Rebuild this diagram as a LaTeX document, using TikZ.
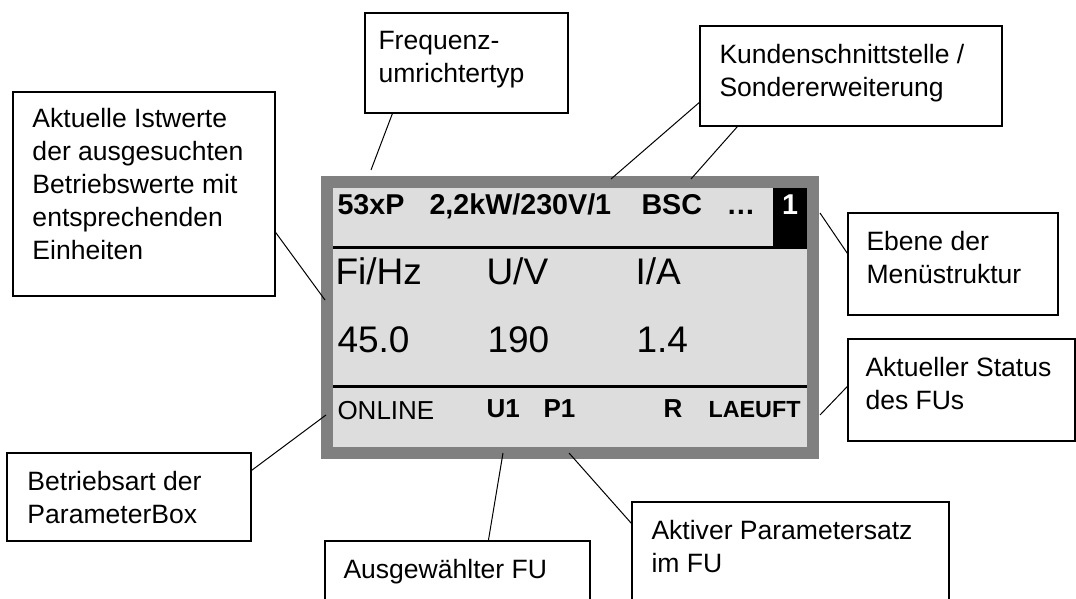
\documentclass[tikz,border=0pt]{standalone}
\usepackage{fontspec}
\setmainfont{Liberation Sans}
\usepackage{tikz}
\usetikzlibrary{calc}
\usetikzlibrary{fit}
\tikzset{every picture/.style={line width=0.75pt}}
\definecolor{framegray}{RGB}{128,128,128}
\definecolor{lcdgray}{RGB}{221,221,221}
\newcommand{\calloutfont}{\fontsize{19.9}{24.75}\selectfont}
\newcommand{\lcdhead}{\bfseries\fontsize{21.5}{25}\selectfont}
\newcommand{\lcdbig}{\fontsize{27.75}{32}\selectfont}
\newcommand{\lcdstat}{\fontsize{19.5}{23}\selectfont}
\tikzset{
  callout/.style={draw, line width=0.9pt, inner sep=0pt, fill=white},
  callouttext/.style={anchor=north west, inner sep=0pt, align=left, font=\calloutfont},
  lcdtext/.style={anchor=base west, inner sep=0pt},
  pointer/.style={line width=0.75pt}
}

\begin{document}
\begin{tikzpicture}[x=0.75pt,y=0.75pt,yscale=-1,xscale=1]
\useasboundingbox (0,0) rectangle (1076,599);
\clip (0,0) rectangle (1076,599);

%Shape: Display frame
\fill [framegray] (321,176) rectangle (819,459);
\fill [lcdgray] (333,188) rectangle (807,447);
\fill [black] (773,188) rectangle (807,249);
%Straight Lines
\draw [line width=2.25pt] (333,248) -- (807,248);
\draw [line width=2.25pt] (333,387) -- (807,387);

% Text Node
\node [lcdtext, font=\lcdhead] (fu-typ) at (337,215) {53xP};
\node [lcdtext, font=\lcdhead] (fu-leist) at (429,215) {2,2kW/230V/1};
\node [lcdtext, font=\lcdhead] (fu-bsc) at (641,215) {BSC};
\node [lcdtext, font=\lcdhead] (fu-dots) at (726,215) {…};
\node [anchor=base, inner sep=0pt, font=\lcdhead, text=white] (ebene-nr) at (790,215) {1};
% Text Node
\node [lcdtext, font=\lcdbig] (fi-lbl) at (335,285) {Fi/Hz};
\node [lcdtext, font=\lcdbig] (u-lbl) at (486,285) {U/V};
\node [lcdtext, font=\lcdbig] (i-lbl) at (635,285) {I/A};
\node [lcdtext, font=\lcdbig] (fi-val) at (337,353) {45.0};
\node [lcdtext, font=\lcdbig] (u-val) at (487,353) {190};
\node [lcdtext, font=\lcdbig] (i-val) at (636,353) {1.4};
% Text Node
\node [lcdtext, font=\lcdstat] (modus) at (337,419) {ONLINE};
\node [lcdtext, font=\lcdstat\bfseries] (umr) at (486,417) {U1};
\node [lcdtext, font=\lcdstat\bfseries] (psatz) at (543,417) {P1};
\node [lcdtext, font=\lcdstat\bfseries] (run) at (663,417) {R};
\node [lcdtext, font=\bfseries\fontsize{17.5}{20}\selectfont] (status) at (708,417) {LAEUFT};

% pointer ends on the display
\coordinate (p-akt) at (325,300);
\coordinate (p-typ) at (371,170);
\coordinate (p-kund1) at (611,179);
\coordinate (p-kund2) at (691,179);
\coordinate (p-ebene) at (820,213);
\coordinate (p-status) at (820,415);
\coordinate (p-modus) at (326,415);
\coordinate (p-umr) at (503,453);
\coordinate (p-psatz) at (569,453);

%Shape: Callout boxes
\node [callout, fit={(13,92) (275,296)}] (akt) {};
\node [callouttext] (akt-t) at (32,108) {Aktuelle Istwerte\\der ausgesuchten\\Betriebswerte mit\\entsprechenden\\Einheiten};
\node [callout, fit={(365,13) (568,113)}] (typ) {};
\node [callouttext] (typ-t) at (378,31) {Frequenz-\\umrichtertyp};
\node [callout, fit={(700,26) (1002,126)}] (kund) {};
\node [callouttext] (kund-t) at (719,44) {Kundenschnittstelle /\\Sondererweiterung};
\node [callout, fit={(848,213) (1058,315)}] (ebene) {};
\node [callouttext] (ebene-t) at (866,231) {Ebene der\\Menüstruktur};
\node [callout, fit={(848,339) (1075,441)}] (stat) {};
\node [callouttext] (stat-t) at (865,357) {Aktueller Status\\des FUs};
\node [callout, fit={(7,453) (251,541)}] (betr) {};
\node [callouttext] (betr-t) at (27,471) {Betriebsart der\\ParameterBox};
\node [callout, fit={(325,541) (590,620)}] (ausg) {};
\node [callouttext] (ausg-t) at (343,559) {Ausgewählter FU};
\node [callout, fit={(632,502) (949,620)}] (aktiv) {};
\node [callouttext] (aktiv-t) at (651,520) {Aktiver Parametersatz\\im FU};

%Straight Lines
\draw [pointer] ($(akt.north east)+(0,141)$) -- (p-akt);
\draw [pointer] ($(typ.south west)+(28,0)$) -- (p-typ);
\draw [pointer] ($(kund.north west)+(0,77)$) -- (p-kund1);
\draw [pointer] ($(kund.south west)+(38,0)$) -- (p-kund2);
\draw [pointer] ($(ebene.north west)+(0,41)$) -- (p-ebene);
\draw [pointer] ($(stat.north west)+(0,48)$) -- (p-status);
\draw [pointer] ($(betr.north east)+(0,18)$) -- (p-modus);
\draw [pointer] ($(ausg.north west)+(164,0)$) -- (p-umr);
\draw [pointer] ($(aktiv.north west)+(0,22)$) -- (p-psatz);

\end{tikzpicture}
\end{document}
